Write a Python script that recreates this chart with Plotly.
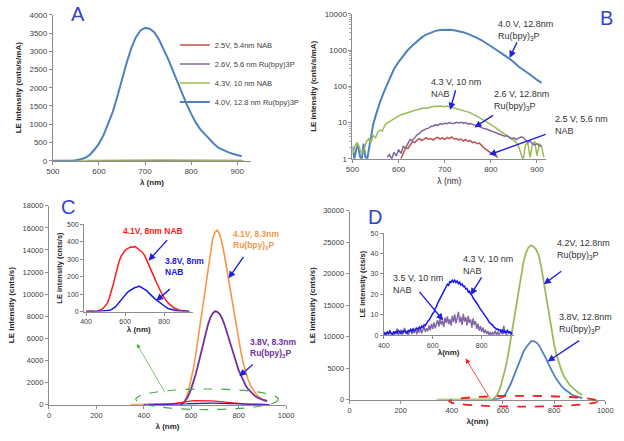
import plotly.graph_objects as go

W, H = 624, 441
def px(x): return x / W
def py(y): return 1 - y / H

FONT = "Liberation Sans"

# ---------------- Panel A / B data (LE intensity, cnts/s/mA) ----------------
blue_ab_wl = [500, 504, 508, 512, 516, 520, 524, 528, 532, 536, 540, 545, 550, 555, 560,
              570, 580, 590, 600, 610, 620, 630, 640, 650, 660, 670, 680, 690, 700, 710,
              720, 730, 740, 750, 760, 770, 780, 790, 800, 810, 820, 830, 840, 850, 860,
              870, 880, 890, 900, 910]
blue_ab = [2.2, 1.0, 1.8, 2.5, 1.2, 0.9, 2.6, 1.1, 1.0, 2.0, 5, 9, 15, 24, 38,
           80, 160, 300, 470, 700, 1000, 1340, 1760, 2230, 2680, 3080, 3380, 3570, 3640, 3620,
           3520, 3330, 3080, 2790, 2480, 2160, 1860, 1560, 1290, 1050, 860, 720, 580, 460, 350,
           285, 235, 190, 150, 125]

green_ab_wl = list(range(500, 920, 5))
green_ab = [1.3, 2.2, 2.8, 2.0, 1.4, 1.8, 2.9, 3.6, 2.8, 4.4, 3.8, 5.6, 6.2, 5.8, 8.4, 9.6,
            10.5, 12.0, 13.0, 14.5, 15.2, 16.5, 17.0, 18.4, 19.0, 19.6, 21.0, 21.8, 22.5, 23.5,
            24.0, 25.0, 24.6, 26.0, 26.8, 27.5, 28.3, 27.6, 28.5, 28.0, 27.2, 28.6, 27.4, 26.5,
            25.8, 25.0, 24.2, 23.0, 22.0, 21.2, 20.0, 18.8, 17.0, 16.2, 15.0, 13.6, 12.8, 11.5,
            10.6, 9.8, 8.9, 8.0, 7.2, 6.6, 6.0, 5.3, 4.8, 4.4, 3.9, 3.5, 3.2, 2.8, 2.2, 1.3,
            0.9, 2.4, 2.8, 1.1, 2.5, 3.0, 1.2, 2.6, 2.2, 1.1]

purple_ab_wl = list(range(575, 915, 5))
purple_ab = [1.1, 1.3, 1.0, 1.5, 1.2, 1.8, 1.4, 2.2, 2.0, 2.6, 3.4, 3.2, 4.0, 4.6, 5.0, 5.8,
             6.2, 6.8, 7.0, 7.8, 8.0, 8.6, 8.3, 9.2, 9.0, 9.6, 9.3, 10.0, 9.6, 9.4, 10.1, 9.7,
             10.2, 9.6, 10.0, 9.2, 9.4, 8.8, 8.5, 8.2, 7.6, 7.3, 6.8, 6.6, 6.2, 6.0, 5.5, 5.2,
             5.0, 4.6, 4.4, 4.2, 4.3, 3.9, 3.6, 3.8, 3.4, 3.7, 4.0, 3.9, 3.2, 2.8, 3.1, 2.6,
             2.4, 2.6, 2.3, 2.2]

red_ab_wl = list(range(605, 820, 5))
red_ab = [1.0, 1.5, 2.0, 1.9, 2.4, 3.0, 2.8, 3.3, 3.6, 3.2, 3.5, 3.8, 3.4, 3.6, 3.3, 3.7,
          3.9, 3.5, 3.8, 3.4, 3.9, 3.6, 4.0, 3.5, 3.6, 3.3, 3.5, 3.1, 3.4, 3.0, 3.2, 2.8,
          2.9, 2.6, 2.7, 2.3, 2.0, 1.8, 1.6, 1.5, 1.3, 1.2, 1.1]

legend_names = ["2.5V, 5.4nm NAB", "2.6V, 5.6 nm Ru(bpy)3P", "4.3V, 10 nm NAB",
                "4.0V, 12.8 nm Ru(bpy)3P"]

# ---------------- Panel C data (cnts/s) ----------------
orange_c_wl = [345, 400, 450, 500, 550, 560, 570, 580, 590, 600, 610, 620, 630, 640, 650,
               660, 670, 680, 690, 700, 710, 720, 730, 740, 750, 760, 770, 780, 790, 800,
               810, 820, 830, 840, 850, 860, 870, 880, 890, 900, 910, 920]
orange_c = [0, 0, 0, 0, 0, 60, 250, 700, 1400, 2300, 3400, 4700, 6200, 7700, 9300,
            10900, 12400, 13900, 15000, 15600, 15800, 15400, 14600, 13500, 12200, 10900,
            9600, 8300, 7000, 5800, 4700, 3700, 2900, 2250, 1750, 1350, 1050, 800, 600,
            450, 340, 260]

purple_c_wl = [555, 560, 570, 580, 590, 600, 610, 620, 630, 640, 650, 660, 670, 680, 690,
               700, 710, 720, 730, 740, 750, 760, 770, 780, 790, 800, 810, 820, 830, 840,
               850, 860, 870, 880, 890, 900, 910, 920]
purple_c = [0, 80, 200, 500, 900, 1450, 2100, 2850, 3700, 4600, 5500, 6400, 7200, 7850,
            8250, 8450, 8400, 8200, 7800, 7250, 6600, 5900, 5250, 4600, 3800, 3100, 2600,
            2100, 1700, 1400, 1150, 920, 750, 620, 520, 450, 400, 350]

nab_c_wl = list(range(400, 940, 10))
red_c = [2, 0, 3, 1, 2, 0, 4, 6, 12, 22, 36, 50, 82, 118, 158, 205, 252, 290, 318, 338,
         352, 360, 366, 372, 368, 374, 366, 358, 350, 338, 322, 298, 275, 250, 222, 195,
         168, 142, 118, 98, 80, 64, 50, 40, 30, 22, 16, 11, 8, 6, 4, 3, 2, 1]
blue_c = [0, 1, 0, 2, 0, 1, 0, 1, 0, 2, 3, 4, 7, 11, 18, 27, 40, 54, 68, 83, 96, 108,
          117, 125, 132, 138, 140, 146, 141, 136, 128, 120, 108, 97, 86, 76, 67, 58, 48,
          40, 32, 25, 18, 14, 11, 8, 6, 4, 3, 2, 1, 0, 0, 0]

# ---------------- Panel D data (cnts/s) ----------------
green_d_wl = [340, 400, 450, 500, 550, 560, 570, 580, 590, 600, 610, 620, 630, 640, 650,
              660, 670, 680, 690, 700, 710, 720, 730, 740, 750, 760, 770, 780, 790, 800,
              810, 820, 830, 840, 850, 860, 870, 880, 890, 900, 910]
green_d = [0, 0, 0, 0, 0, 100, 400, 1000, 2000, 3400, 5100, 7100, 9500, 12100, 14800,
           17400, 19800, 21800, 23300, 24200, 24500, 24300, 23800, 22900, 21000, 18600,
           16000, 13300, 10800, 8800, 7000, 5600, 4500, 3600, 2900, 2400, 2000, 1600, 1300,
           1000, 750]

blue_d_wl = [560, 570, 580, 590, 600, 610, 620, 630, 640, 650, 660, 670, 680, 690, 700,
             710, 720, 730, 740, 750, 760, 770, 780, 790, 800, 810, 820, 830, 840, 850,
             860, 870, 880, 890, 900, 910]
blue_d = [0, 50, 150, 280, 450, 900, 1600, 2500, 3500, 4600, 5700, 6700, 7600, 8300,
          8900, 9300, 9300, 9100, 8700, 8000, 7200, 6400, 5500, 4600, 3900, 3200, 2600,
          2100, 1700, 1350, 1050, 800, 600, 450, 330, 250]

nab43_wl = list(range(400, 930, 5))
nab43 = [0.3, 1.2, 0.5, 1.6, 0.8, 1.9, 1.0, 0.4, 1.5, 0.9, 1.8, 1.1, 2.2, 1.4, 0.8, 2.0,
         1.3, 2.4, 1.6, 1.0, 2.3, 1.7, 2.8, 1.9, 3.0, 2.2, 2.6, 3.4, 2.8, 3.9, 3.2, 4.4,
         3.8, 5.0, 4.6, 6.2, 6.8, 7.4, 8.8, 9.4, 10.6, 11.2, 13.0, 13.8, 15.6, 16.8, 17.9,
         19.5, 20.4, 21.9, 22.8, 23.6, 25.0, 24.4, 26.5, 25.6, 27.2, 26.0, 26.9, 25.8,
         26.6, 25.3, 26.0, 24.6, 25.1, 23.8, 24.0, 22.6, 22.9, 21.2, 21.6, 20.0, 19.6,
         18.2, 17.4, 16.6, 15.4, 14.8, 13.6, 12.8, 11.4, 10.9, 9.8, 9.0, 8.2, 7.6, 6.4,
         6.0, 5.2, 4.8, 3.9, 3.6, 2.8, 3.1, 2.2, 2.6, 1.5, 2.4, 1.2, 2.0, 1.0, 2.6, 0.8,
         1.8, 0.6, 1.2]

nab35_wl = list(range(400, 910, 5))
nab35 = [0.0, 0.8, 0.2, 1.5, 0.0, 2.4, 0.3, 0.9, 0.0, 1.8, 0.4, 3.2, 0.0, 1.1, 2.6, 0.2,
         1.4, 3.5, 0.6, 2.0, 0.1, 1.7, 3.0, 0.5, 2.2, 1.0, 3.6, 0.4, 2.5, 1.3, 3.8, 0.9,
         2.8, 4.2, 1.5, 3.3, 2.0, 4.8, 2.4, 5.5, 3.0, 6.2, 3.4, 5.0, 7.4, 4.1, 8.0, 5.2,
         7.0, 3.9, 8.6, 6.0, 9.2, 5.4, 7.8, 4.6, 9.6, 6.4, 10.2, 5.8, 8.4, 11.4, 6.2, 9.0,
         5.0, 10.4, 6.6, 8.8, 4.8, 9.4, 6.0, 7.6, 3.6, 8.2, 5.0, 6.8, 3.0, 5.6, 2.2, 4.4,
         1.6, 3.8, 1.0, 2.6, 0.6, 2.0, 0.2, 1.5, 0.0, 1.2, 0.4, 2.2, 0.1, 1.6, 0.0, 1.0,
         2.8, 0.3, 4.6, 1.2, 0.5, 0.2]

# ---------------- colours ----------------
C_RED, C_PUR, C_GRN, C_BLU = "#c0504d", "#8064a2", "#9bbb59", "#4f81bd"
C_ORG, C_VIO = "#f79646", "#7030a0"
C_IRED, C_IBLU = "#ff1a1a", "#1a1ae6"
ARROW = "#2222dd"

fig = go.Figure()

def line(x, y, color, xa, ya, width=1.6, name=None, legend=False):
    fig.add_trace(go.Scatter(x=x, y=y, mode="lines", line=dict(color=color, width=width),
                             xaxis=xa, yaxis=ya, name=name, showlegend=legend,
                             hoverinfo="skip"))

# Panel A
line(red_ab_wl, red_ab, C_RED, "x", "y", 1.6, legend_names[0], True)
line(purple_ab_wl, purple_ab, C_PUR, "x", "y", 1.6, legend_names[1], True)
line(green_ab_wl, green_ab, C_GRN, "x", "y", 1.6, legend_names[2], True)
line(blue_ab_wl, blue_ab, C_BLU, "x", "y", 2.0, legend_names[3], True)
# Panel B
line(blue_ab_wl, blue_ab, C_BLU, "x2", "y2", 2.0)
line(green_ab_wl, green_ab, C_GRN, "x2", "y2", 1.5)
line(purple_ab_wl, purple_ab, C_PUR, "x2", "y2", 1.5)
line(red_ab_wl, red_ab, C_RED, "x2", "y2", 1.5)
# Panel C main
line(orange_c_wl, orange_c, C_ORG, "x3", "y3", 1.6)
line(purple_c_wl, purple_c, C_VIO, "x3", "y3", 1.8)
line(nab_c_wl, red_c, C_IRED, "x3", "y3", 1.4)
line(nab_c_wl, blue_c, C_IBLU, "x3", "y3", 1.4)
# Panel C inset
line(nab_c_wl, red_c, C_IRED, "x4", "y4", 1.5)
line(nab_c_wl, blue_c, C_IBLU, "x4", "y4", 1.5)
# Panel D main
line(green_d_wl, green_d, C_GRN, "x5", "y5", 1.8)
line(blue_d_wl, blue_d, C_BLU, "x5", "y5", 1.8)
# Panel D inset
line(nab35_wl, nab35, C_PUR, "x6", "y6", 1.4)
line(nab43_wl, nab43, C_IBLU, "x6", "y6", 1.5)

def axis(domain_px, rng, horizontal, tickfont=8, title="", titlefont=8, anchor=None, **kw):
    a, b = domain_px
    dom = [px(a), px(b)] if horizontal else [py(b), py(a)]
    d = dict(domain=dom, range=rng, showline=True, linecolor="#8c8c8c", linewidth=1,
             ticks="outside", ticklen=3, tickcolor="#8c8c8c", showgrid=False,
             zeroline=False, tickfont=dict(family=FONT, size=tickfont, color="#404040"),
             title=dict(text=title, font=dict(family=FONT, size=titlefont, color="#262626")),
             anchor=anchor, fixedrange=True, tickformat="d")
    d.update(kw)
    return d

minor_vals = [m * 10 ** e for e in range(4) for m in range(2, 10)]

fig.update_layout(
    width=W, height=H, margin=dict(l=0, r=0, t=0, b=0),
    paper_bgcolor="white", plot_bgcolor="rgba(0,0,0,0)",
    font=dict(family=FONT),
    xaxis=axis((47, 250), [500, 930], True, 8, "<b>λ (nm)</b>", 8, "y", dtick=100,
               title_standoff=4),
    yaxis=axis((11, 160), [0, 4000], False, 8, "<b>LE intensity (cnts/s/mA)</b>", 8, "x",
               dtick=500, title_standoff=6),
    xaxis2=axis((354, 552.5), [500, 920], True, 8, "λ (nm)", 8.5, "y2", dtick=100,
                title_standoff=4),
    yaxis2=axis((10, 158), [0, 4], False, 8, "<b>LE intensity (cnts/s/mA)</b>", 8, "x2",
                type="log", tickvals=[1, 10, 100, 1000, 10000],
                ticktext=["1", "10", "100", "1000", "10000"], title_standoff=6,
                tickformat=None,
                minor=dict(tickvals=minor_vals, ticks="outside", ticklen=2,
                           tickcolor="#aaaaaa")),
    xaxis3=axis((43, 286), [0, 1000], True, 7.5, "<b>λ (nm)</b>", 8, "y3", dtick=200,
                title_standoff=4),
    yaxis3=axis((206, 409), [0, 18000], False, 7.5, "<b>LE intensity (cnts/s)</b>", 8, "x3",
                dtick=2000, title_standoff=6),
    xaxis4=axis((79, 191), [390, 950], True, 7, "<b>λ (nm)</b>", 8, "y4",
                tickvals=[400, 600, 800], title_standoff=0),
    yaxis4=axis((225, 314), [0, 500], False, 7, "<b>LE intensity (cnts/s)</b>", 7.5, "x4",
                dtick=100, title_standoff=3),
    xaxis5=axis((351, 613), [0, 1000], True, 7.5, "<b>λ(nm)</b>", 8, "y5", dtick=200,
                title_standoff=4),
    yaxis5=axis((211, 404), [0, 30000], False, 7.5, "<b>LE intensity (cnts/s)</b>", 8, "x5",
                dtick=5000, title_standoff=6),
    xaxis6=axis((386, 519), [400, 930], True, 7, "<b>λ(nm)</b>", 8, "y6",
                tickvals=[400, 600, 800], title_standoff=0),
    yaxis6=axis((234, 338), [0, 50], False, 7, "<b>LE intensity (cts/s)</b>", 7.5, "x6",
                dtick=10, title_standoff=3),
    legend=dict(x=px(172), y=py(27), xanchor="left", yanchor="top",
                bgcolor="rgba(0,0,0,0)", font=dict(family=FONT, size=7.5, color="#404040"),
                tracegroupgap=0),
)

ann = []
def label(text, x, y, color="#333333", size=9, bold=False, align="left"):
    t = f"<b>{text}</b>" if bold else text
    ann.append(dict(text=t, x=px(x), y=py(y), xref="paper", yref="paper", showarrow=False,
                    xanchor="left", yanchor="middle", align=align,
                    font=dict(family=FONT, size=size, color=color)))

def arrow(tail, head, color=ARROW, width=1.4, size=1.0):
    ann.append(dict(text="", x=px(head[0]), y=py(head[1]), xref="paper", yref="paper",
                    ax=tail[0] - head[0], ay=tail[1] - head[1], axref="pixel", ayref="pixel",
                    showarrow=True, arrowhead=2, arrowsize=size, arrowwidth=width,
                    arrowcolor=color))

# panel letters
for t, x, y in [("A", 64, 10), ("B", 606, 14), ("C", 53, 207), ("D", 368, 217)]:
    ann.append(dict(text=t, x=px(x), y=py(y), xref="paper", yref="paper", showarrow=False,
                    xanchor="left", yanchor="middle",
                    font=dict(family=FONT, size=20, color="#3344cc")))

# panel B
label("4.0 V, 12.8nm<br>Ru(bpy)<sub>3</sub>P", 501, 27)
label("4.3 V, 10 nm<br>NAB", 432, 86)
label("2.6 V, 12.8nm<br>Ru(bpy)<sub>3</sub>P", 497, 99)
label("2.5 V, 5.6 nm<br>NAB", 559, 124)
arrow((523, 38), (515, 55))
arrow((460, 87), (454, 108))
arrow((499, 113), (479, 126))
arrow((552, 133), (494, 154))

# panel C
label("4.1V, 8nm NAB", 117, 232, C_IRED, 8.5, True)
label("3.8V, 8nm<br>NAB", 160, 268, C_IBLU, 8.5, True)
label("4.1V, 8.3nm<br>Ru(bpy)<sub>3</sub>P", 230, 241, C_ORG, 8.5, True)
label("3.8V, 8.3nm<br>Ru(bpy)<sub>3</sub>P", 247, 351, C_VIO, 8.5, True)
arrow((165, 240), (145, 262))
arrow((168, 290), (153, 303))
arrow((243, 257), (227, 280))
arrow((253, 367), (238, 380))
arrow((162, 397), (133, 347), color="#44aa44", width=0.7, size=1.2)

# panel D
label("4.3 V, 10 nm<br>NAB", 465, 266)
label("3.5 V, 10 nm<br>NAB", 393, 286)
label("4.2V, 12.8nm<br>Ru(bpy)<sub>3</sub>P", 562, 251)
label("3.8V, 12.8nm<br>Ru(bpy)<sub>3</sub>P", 564, 326)
arrow((487, 278), (475, 297))
arrow((422, 293), (447, 323))
arrow((569, 272), (550, 286))
arrow((587, 343), (554, 365))
arrow((495, 403), (470, 362), color="#ee2222", width=0.8, size=1.2)

fig.update_layout(annotations=ann)

fig.update_layout(shapes=[
    dict(type="circle", xref="paper", yref="paper", x0=px(132), x1=px(278),
         y0=py(414), y1=py(393), line=dict(color="#44aa44", width=1.2, dash="dash")),
    dict(type="circle", xref="paper", yref="paper", x0=px(453), x1=px(605),
         y0=py(411), y1=py(400), line=dict(color="#ee2222", width=1.8, dash="dash")),
])

fig.write_html("out.html")
